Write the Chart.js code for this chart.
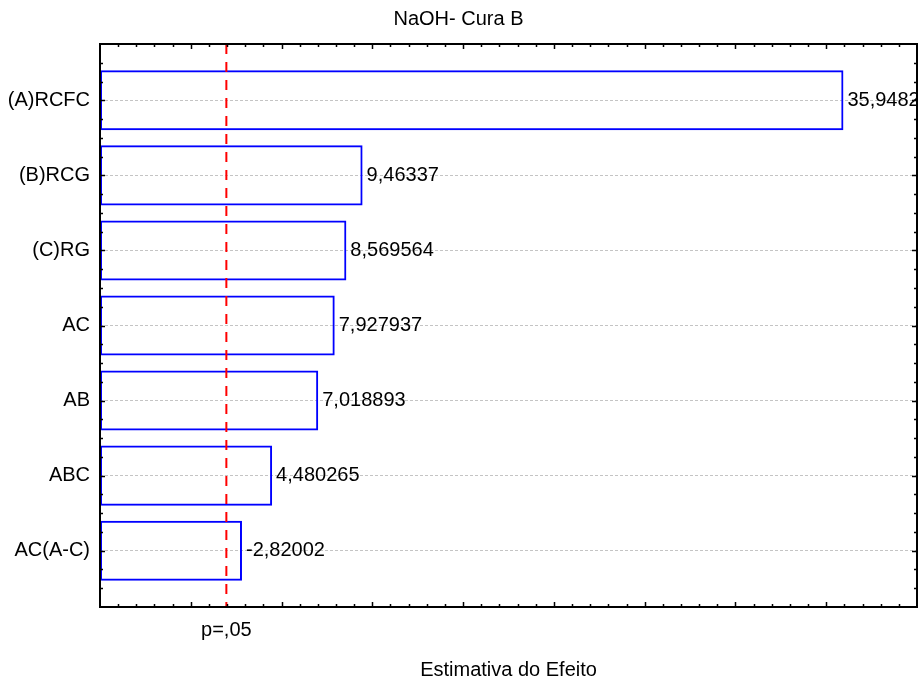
<!DOCTYPE html>
<html>
<head>
<meta charset="utf-8">
<script src="https://cdn.jsdelivr.net/npm/chart.js@4"></script>
<style>
  html, body { margin: 0; padding: 0; background: #fff; }
  #wrap { width: 920px; height: 684px; }
</style>
</head>
<body>
<div id="wrap"><canvas id="pareto"></canvas></div>
<script>
// Pareto dos efeitos padronizados
const effects = ["(A)RCFC", "(B)RCG", "(C)RG", "AC", "AB", "ABC", "AC(A-C)"];
const estimates = [35.94822, 9.46337, 8.569564, 7.927937, 7.018893, 4.480265, -2.82002];
const xRange = [-5, 40];
const pCritical = 1.96;
const pLabel = "p=,05";

const FONT = "'Liberation Sans', Arial, Helvetica, sans-serif";

const bars = estimates.map((v, i) => ({ x: [xRange[0], Math.abs(v)], y: i }));

const paretoDecor = {
  id: "paretoDecor",
  afterDatasetsDraw(chart) {
    const { ctx, chartArea: a, scales } = chart;
    const sx = scales.x, sy = scales.y;

    // linha de significancia
    const px = sx.getPixelForValue(pCritical);
    ctx.save();
    ctx.strokeStyle = "#ff0000";
    ctx.lineWidth = 2;
    ctx.setLineDash([10, 8]);
    ctx.beginPath();
    ctx.moveTo(px, a.top);
    ctx.lineTo(px, a.bottom);
    ctx.stroke();
    ctx.restore();

    // valores ao lado das barras
    ctx.save();
    ctx.beginPath();
    ctx.rect(a.left, a.top, a.right - a.left, a.bottom - a.top);
    ctx.clip();
    ctx.font = "20px " + FONT;
    ctx.fillStyle = "#000";
    ctx.textBaseline = "middle";
    ctx.textAlign = "left";
    chart.getDatasetMeta(0).data.forEach((bar, i) => {
      const end = sx.getPixelForValue(Math.abs(estimates[i]));
      ctx.fillText(String(estimates[i]).replace(".", ","), end + 4, bar.y);
    });
    ctx.restore();

    // moldura
    ctx.save();
    ctx.strokeStyle = "#000";
    ctx.lineWidth = 2;
    ctx.strokeRect(a.left, a.top, a.right - a.left, a.bottom - a.top);

    // marcas internas
    ctx.lineWidth = 1.5;
    ctx.beginPath();
    for (let v = xRange[0] + 1; v < xRange[1]; v++) {
      const x = Math.round(sx.getPixelForValue(v)) + 0.5;
      const len = v % 5 === 0 ? 5 : 3;
      ctx.moveTo(x, a.bottom); ctx.lineTo(x, a.bottom - len);
      ctx.moveTo(x, a.top); ctx.lineTo(x, a.top + len);
    }
    for (let k = 1; k < 30; k++) {
      const v = -0.75 + k * 0.25;
      const y = Math.round(sy.getPixelForValue(v)) + 0.5;
      const len = Math.abs(v - Math.round(v)) < 1e-6 ? 5 : 3;
      ctx.moveTo(a.left, y); ctx.lineTo(a.left + len, y);
      ctx.moveTo(a.right, y); ctx.lineTo(a.right - len, y);
    }
    ctx.stroke();

    // rotulo p=,05
    ctx.font = "20px " + FONT;
    ctx.fillStyle = "#000";
    ctx.textAlign = "center";
    ctx.textBaseline = "middle";
    ctx.fillText(pLabel, px, a.bottom + 23);
    ctx.restore();
  }
};

new Chart(document.getElementById("pareto"), {
  type: "bar",
  data: {
    datasets: [{
      data: bars,
      borderColor: "#0000ff",
      backgroundColor: "transparent",
      borderWidth: 2,
      borderSkipped: false,
      categoryPercentage: 1,
      barPercentage: 0.8
    }]
  },
  options: {
    indexAxis: "y",
    responsive: true,
    maintainAspectRatio: false,
    animation: false,
    layout: { padding: { top: 0, right: 3, bottom: 0, left: 0 } },
    plugins: {
      legend: { display: false },
      tooltip: { enabled: false },
      title: {
        display: true,
        text: "NaOH- Cura B",
        color: "#000",
        font: { family: FONT, size: 20, weight: "normal" },
        padding: { top: 7.5, bottom: 12.5 }
      }
    },
    scales: {
      x: {
        type: "linear",
        min: xRange[0],
        max: xRange[1],
        offset: false,
        grid: { display: false },
        border: { display: false },
        ticks: { display: false },
        title: {
          display: true,
          text: "Estimativa do Efeito",
          color: "#000",
          font: { family: FONT, size: 20 },
          padding: { top: 0, bottom: 2 }
        },
        afterFit: (s) => { s.height = 77; }
      },
      y: {
        type: "linear",
        reverse: true,
        min: -0.75,
        max: 6.75,
        offset: false,
        afterBuildTicks: (s) => { s.ticks = effects.map((_, i) => ({ value: i })); },
        ticks: {
          padding: 10,
          color: "#000",
          font: { family: FONT, size: 20 },
          callback: (v) => effects[v] ?? ""
        },
        grid: { color: "#c4c4c4", lineWidth: 1, drawTicks: false, offset: false },
        border: { display: false, dash: [3, 2] },
        afterFit: (s) => { s.width = 100; }
      }
    }
  },
  plugins: [paretoDecor]
});
</script>
</body>
</html>
